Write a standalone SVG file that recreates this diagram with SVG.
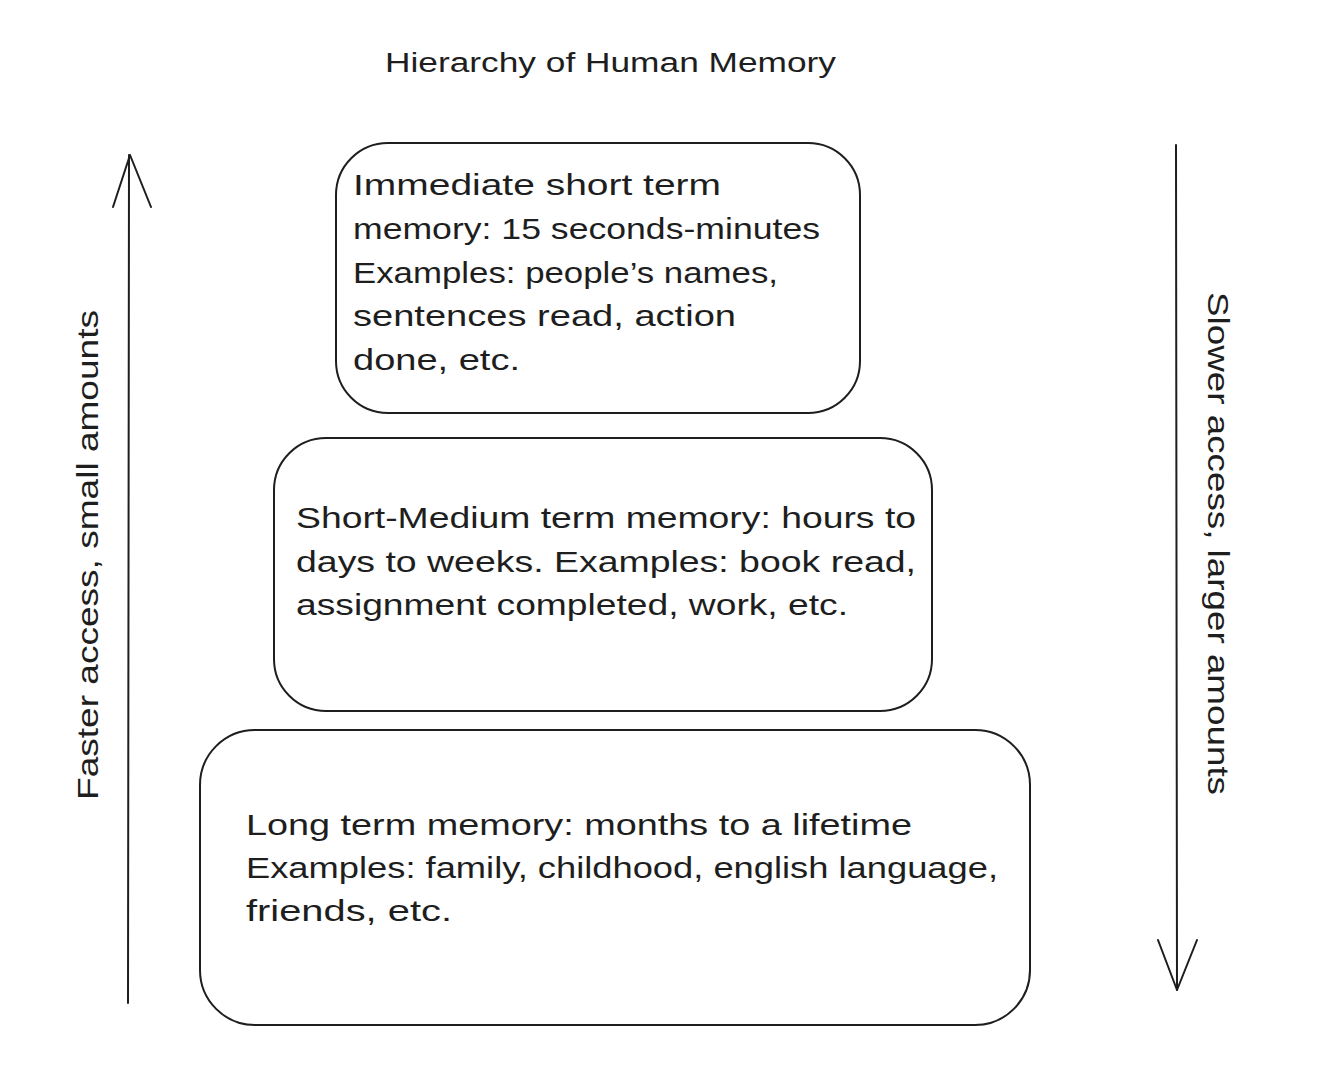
<svg xmlns="http://www.w3.org/2000/svg" width="1324" height="1088" viewBox="0 0 1324 1088">
<style>
.box{fill:#ffffff;stroke:#1e1e1e;stroke-width:2}
.t{font-family:"Liberation Sans",Arial,sans-serif;font-size:29px;fill:#1e1e1e}
.ttl{font-family:"Liberation Sans",Arial,sans-serif;font-size:27px;fill:#1e1e1e}
.ln{fill:none;stroke:#1e1e1e;stroke-width:2;stroke-linecap:round;stroke-linejoin:round}
</style>
<rect width="1324" height="1088" fill="#ffffff"/>
<text id="title" class="ttl" x="385" y="72" textLength="451" lengthAdjust="spacingAndGlyphs">Hierarchy of Human Memory</text>
<g id="immediate">
<rect class="box" x="336" y="143" width="524" height="270" rx="52"/>
<text class="t" x="353" y="195" textLength="368" lengthAdjust="spacingAndGlyphs">Immediate short term</text>
<text class="t" x="353" y="239" textLength="467" lengthAdjust="spacingAndGlyphs">memory: 15 seconds-minutes</text>
<text class="t" x="353" y="283" textLength="425" lengthAdjust="spacingAndGlyphs">Examples: people’s names,</text>
<text class="t" x="353" y="326" textLength="383" lengthAdjust="spacingAndGlyphs">sentences read, action</text>
<text class="t" x="353" y="370" textLength="167" lengthAdjust="spacingAndGlyphs">done, etc.</text>
</g>
<g id="short-medium">
<rect class="box" x="274" y="438" width="658" height="273" rx="52"/>
<text class="t" x="296" y="528" textLength="620" lengthAdjust="spacingAndGlyphs">Short-Medium term memory: hours to</text>
<text class="t" x="296" y="572" textLength="620" lengthAdjust="spacingAndGlyphs">days to weeks. Examples: book read,</text>
<text class="t" x="296" y="615" textLength="552" lengthAdjust="spacingAndGlyphs">assignment completed, work, etc.</text>
</g>
<g id="long">
<rect class="box" x="200" y="730" width="830" height="295" rx="55"/>
<text class="t" x="246" y="835" textLength="666" lengthAdjust="spacingAndGlyphs">Long term memory: months to a lifetime</text>
<text class="t" x="246" y="878" textLength="752" lengthAdjust="spacingAndGlyphs">Examples: family, childhood, english language,</text>
<text class="t" x="246" y="921" textLength="206" lengthAdjust="spacingAndGlyphs">friends, etc.</text>
</g>
<g id="connectors">
<path class="ln" d="M128 1003 L129 155"/>
<path class="ln" d="M113 207 L130 155 L151 207"/>
<path class="ln" d="M1176 145 L1177 990"/>
<path class="ln" d="M1158 940 L1177 990 L1197 940"/>
</g>
<g id="left-label">
<text class="t" transform="translate(98,800) rotate(-90)" x="0" y="0" textLength="490" lengthAdjust="spacingAndGlyphs">Faster access, small amounts</text>
</g>
<g id="right-label">
<text class="t" transform="translate(1208,292) rotate(90)" x="0" y="0" textLength="503" lengthAdjust="spacingAndGlyphs">Slower access, larger amounts</text>
</g>
</svg>
